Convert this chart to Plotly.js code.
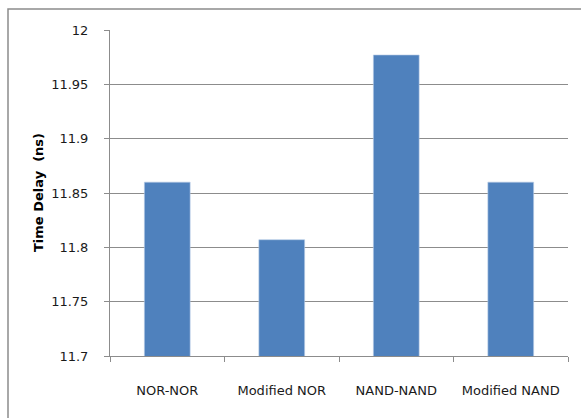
<!DOCTYPE html>
<html>
<head>
<meta charset="utf-8">
<script src="https://cdn.plot.ly/plotly-3.0.1.min.js"></script>
<style>html,body{margin:0;padding:0;background:#fff;}#chart{width:581px;height:418px;}</style>
</head>
<body>
<div id="chart"></div>
<script>
const categories = ["NOR-NOR", "Modified NOR", "NAND-NAND", "Modified NAND"];
const timeDelay = [11.86, 11.807, 11.977, 11.86];
const yTicks = [11.7, 11.75, 11.8, 11.85, 11.9, 11.95, 12];
const yTickLabels = ["11.7", "11.75", "11.8", "11.85", "11.9", "11.95", "12"];

const trace = {
  type: "bar",
  x: categories,
  y: timeDelay,
  width: 0.4,
  marker: {color: "#4f81bd", line: {color: "#b9cde5", width: 0.6}},
  hoverinfo: "none"
};

const layout = {
  width: 581, height: 418,
  margin: {l: 110, r: 13, t: 30, b: 62},
  paper_bgcolor: "#ffffff",
  plot_bgcolor: "#ffffff",
  showlegend: false,
  font: {family: "DejaVu Sans, sans-serif", size: 13, color: "#1a1a1a"},
  xaxis: {
    type: "category",
    showgrid: false,
    showline: true, linecolor: "#8c8c8c", linewidth: 1,
    ticks: "outside", tickson: "boundaries", ticklen: 5, tickcolor: "#8c8c8c",
    ticklabelstandoff: 22,
    tickfont: {size: 13}
  },
  yaxis: {
    range: [11.7, 12],
    tickvals: yTicks, ticktext: yTickLabels,
    showgrid: true, gridcolor: "#8c8c8c", gridwidth: 1,
    showline: true, linecolor: "#8c8c8c", linewidth: 1,
    ticks: "outside", ticklen: 5, tickcolor: "#8c8c8c",
    ticklabelstandoff: 13,
    zeroline: false,
    tickfont: {size: 13}
  },
  annotations: [{
    text: "<b>Time Delay  (ns)</b>",
    xref: "paper", yref: "paper",
    x: (38 - 110) / 458, y: 0.5,
    textangle: -90, showarrow: false,
    font: {size: 13, color: "#000000"},
    xanchor: "center", yanchor: "middle"
  }],
  shapes: [{
    type: "rect", xref: "paper", yref: "paper",
    x0: (8 - 110) / 458, x1: (620 - 110) / 458,
    y0: -0.4, y1: 1 + (30 - 9) / 326,
    line: {color: "#8c8c8c", width: 1.5},
    fillcolor: "rgba(0,0,0,0)", layer: "below"
  }]
};

Plotly.newPlot("chart", [trace], layout, {displayModeBar: false, staticPlot: true});
</script>
</body>
</html>
